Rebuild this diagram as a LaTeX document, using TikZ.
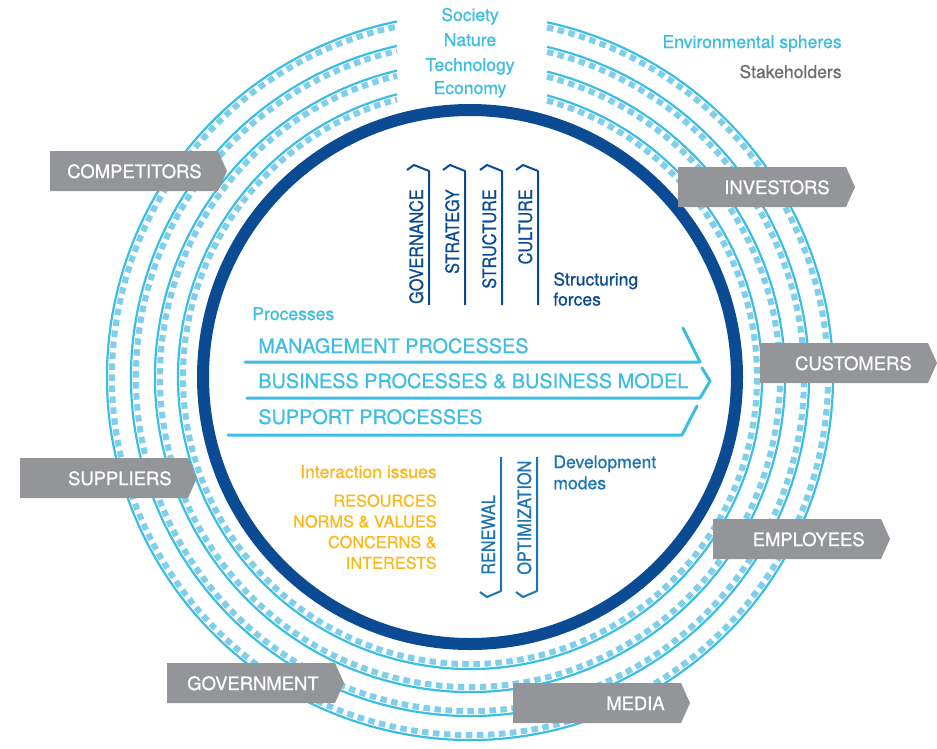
\documentclass[tikz,border=0pt]{standalone}
\usepackage{fontspec}
\setmainfont[FakeBold=0.8]{TeX Gyre Heros}
\newfontfamily\narrowfont[FakeStretch=0.88, FakeBold=0.8]{TeX Gyre Heros}
\definecolor{ringcyan}{HTML}{3CBDE3}
\definecolor{ringlight}{HTML}{7FCEEA}
\definecolor{navy}{HTML}{0A4B94}
\definecolor{midblue}{HTML}{1C75B3}
\definecolor{taggray}{HTML}{939598}
\definecolor{issueyellow}{HTML}{FBB817}
\definecolor{stakegray}{HTML}{6D6E71}

\tikzset{
  smalllabel/.style={font=\fontsize{10}{11.4}\selectfont, inner sep=0pt},
  taglabel/.style={font=\fontsize{10.5}{12}\selectfont, text=white, inner sep=0pt, anchor=base east},
  proclabel/.style={font=\fontsize{11.3}{13}\selectfont, text=ringcyan, inner sep=0pt, anchor=base west},
  forcelabel/.style={font=\narrowfont\fontsize{10.5}{12}\selectfont, rotate=90, inner sep=0pt},
  ringline/.style={ringcyan, line width=0.044cm},
  ringdash/.style={ringlight, line width=0.12cm, dash pattern=on 0.13cm off 0.09cm},
  procline/.style={ringcyan, line width=0.06cm, line cap=round, line join=round},
  forcebar/.style={line width=0.04cm, line join=round},
}

\begin{document}
\begin{tikzpicture}[x=0.02cm, y=-0.02cm]
  \useasboundingbox (0,0) rectangle (937,748);

  % spheres and stakeholder rings, open at the top
  \begin{scope}[shift={(470,377)}]
    \foreach \r in {292,315,339,363} {
      \pgfmathsetmacro\rd{\r-5}
      \draw[ringdash] ({-90+asin(77/\rd)}:\rd)
        arc[start angle={-90+asin(77/\rd)}, end angle={270-asin(73/\rd)}, radius=\rd];
      \draw[ringline] ({-90+asin(77/\r)}:\r)
        arc[start angle={-90+asin(77/\r)}, end angle={270-asin(73/\r)}, radius=\r];
    }
    \draw[navy, line width=0.24cm] (0,0) circle[radius=267];
  \end{scope}

  \node[smalllabel, text=ringcyan, anchor=base] (society) at (470,21) {Society};
  \node[smalllabel, text=ringcyan, anchor=base] (nature) at (470,46) {Nature};
  \node[smalllabel, text=ringcyan, anchor=base] (technology) at (470,71) {Technology};
  \node[smalllabel, text=ringcyan, anchor=base] (economy) at (470,94) {Economy};

  \node[smalllabel, text=ringcyan, anchor=base east] (envspheres) at (842,48) {Environmental spheres};
  \node[smalllabel, text=stakegray, anchor=base east] (stakeholders) at (842,78) {Stakeholders};

  % stakeholder tags
  \foreach \x/\y/\nm/\lbl in {50/151/comp/COMPETITORS, 678/167/inv/INVESTORS,
      760/343/cust/CUSTOMERS, 20/458/supp/SUPPLIERS, 713/519/empl/EMPLOYEES,
      167/663/govt/GOVERNMENT, 513/683/media/MEDIA} {
    \fill[taggray] (\x,\y) -- ++(168,0) -- ++(9,20) -- ++(-9,20) -- ++(-168,0) -- cycle;
    \node[taglabel] (\nm) at (\x+152,\y+27) {\lbl};
  }

  % structuring forces
  \foreach \xl/\nm/\lbl in {407/gov/GOVERNANCE, 443/strat/STRATEGY,
      480/struct/STRUCTURE, 516/cult/CULTURE} {
    \draw[forcebar, navy] (\xl,170) -- (\xl+7,165) -- (\xl+22,171) -- (\xl+22,305);
    \node[forcelabel, text=navy, anchor=base east] (\nm) at (\xl+16,189) {\lbl};
  }
  \node[smalllabel, text=navy, align=left, anchor=north west] (structforces) at (553,272) {Structuring\\forces};

  % processes
  \node[smalllabel, text=ringcyan, anchor=base west] (processes) at (252,320) {Processes};
  \draw[procline] (245,362) -- (700,362) -- (683,328);
  \draw[procline] (247,398) -- (700,398) -- (710,381) -- (702,368);
  \draw[procline] (228,435) -- (682,435) -- (697,406);
  \node[proclabel] (mgmt) at (258,353) {MANAGEMENT PROCESSES};
  \node[proclabel] (business) at (258,388) {BUSINESS PROCESSES \& BUSINESS MODEL};
  \node[proclabel] (support) at (258,424) {SUPPORT PROCESSES};

  % interaction issues
  \node[smalllabel, text=issueyellow, anchor=base east] (issues) at (437,478) {Interaction issues};
  \node[font=\fontsize{9.3}{11.8}\selectfont, text=issueyellow, align=right, inner sep=0pt,
    anchor=north east] (issuelist) at (437,494) {RESOURCES\\NORMS \& VALUES\\CONCERNS \&\\INTERESTS};

  % development modes
  \foreach \xl/\nm/\lbl in {480/renew/RENEWAL, 516/optim/OPTIMIZATION} {
    \draw[forcebar, midblue] (\xl+21,457) -- (\xl+21,591) -- (\xl+7,597) -- (\xl,592);
    \node[forcelabel, text=midblue, anchor=base west] (\nm) at (\xl+15,575) {\lbl};
  }
  \node[smalllabel, text=midblue, align=left, anchor=north west,
    font=\fontsize{10}{12}\selectfont] (devmodes) at (553,455) {Development\\modes};
\end{tikzpicture}
\end{document}
